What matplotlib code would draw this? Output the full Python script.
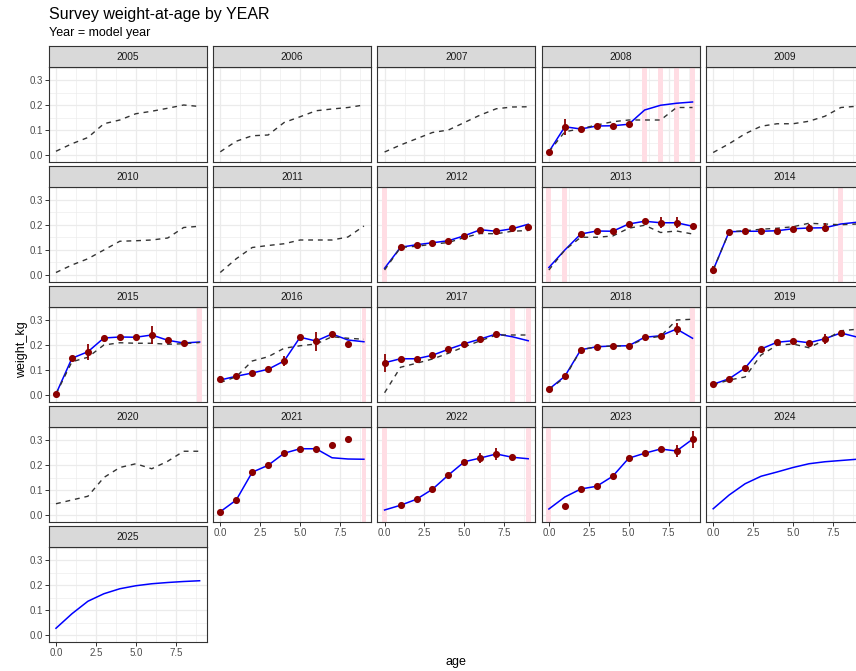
import numpy as np
import matplotlib
matplotlib.use("Agg")
import matplotlib.pyplot as plt

plt.rcParams['font.family'] = ['Liberation Sans', 'DejaVu Sans']

nan = np.nan
ages = [0, 1, 2, 3, 4, 5, 6, 7, 8, 9]
years = list(range(2005, 2026))

# dashed reference curves
dashed = {
    2005: [0.015, 0.045, 0.07, 0.125, 0.14, 0.165, 0.175, 0.187, 0.2, 0.194],
    2006: [0.013, 0.055, 0.077, 0.08, 0.13, 0.153, 0.177, 0.184, 0.19, 0.2],
    2007: [0.012, 0.04, 0.065, 0.09, 0.1, 0.13, 0.16, 0.185, 0.192, 0.193],
    2008: [0.013, 0.093, 0.105, 0.12, 0.133, 0.14, 0.14, 0.14, 0.19, 0.19],
    2009: [0.01, 0.045, 0.085, 0.115, 0.125, 0.125, 0.135, 0.155, 0.19, 0.195],
    2010: [0.01, 0.04, 0.065, 0.1, 0.135, 0.137, 0.14, 0.148, 0.19, 0.195],
    2011: [0.01, 0.065, 0.11, 0.118, 0.125, 0.14, 0.14, 0.14, 0.152, 0.196],
    2012: [0.02, 0.11, 0.115, 0.123, 0.13, 0.15, 0.166, 0.165, 0.175, 0.178],
    2013: [0.02, 0.1, 0.151, 0.151, 0.156, 0.187, 0.199, 0.17, 0.176, 0.164],
    2014: [0.02, 0.173, 0.177, 0.183, 0.187, 0.193, 0.207, 0.204, 0.201, 0.204],
    2015: [0.004, 0.133, 0.151, 0.2, 0.209, 0.207, 0.207, 0.203, 0.205, 0.21],
    2016: [0.05, 0.073, 0.136, 0.153, 0.187, 0.197, 0.204, 0.233, 0.227, 0.223],
    2017: [0.009, 0.111, 0.127, 0.144, 0.167, 0.193, 0.217, 0.24, 0.24, 0.24],
    2018: [0.022, 0.07, 0.181, 0.193, 0.196, 0.197, 0.225, 0.235, 0.3, 0.303],
    2019: [0.04, 0.06, 0.072, 0.16, 0.199, 0.204, 0.189, 0.22, 0.257, 0.263],
    2020: [0.045, 0.06, 0.075, 0.15, 0.19, 0.205, 0.185, 0.215, 0.255, 0.255],
}

# fitted (blue) curves
fitted = {
    2008: [0.013, 0.113, 0.104, 0.116, 0.117, 0.123, 0.18, 0.199, 0.207, 0.212],
    2012: [0.027, 0.111, 0.121, 0.129, 0.137, 0.157, 0.181, 0.175, 0.185, 0.203],
    2013: [0.03, 0.1, 0.164, 0.176, 0.175, 0.204, 0.215, 0.209, 0.209, 0.195],
    2014: [0.02, 0.173, 0.175, 0.175, 0.177, 0.185, 0.188, 0.189, 0.204, 0.211],
    2015: [0.004, 0.147, 0.173, 0.228, 0.232, 0.231, 0.24, 0.219, 0.208, 0.212],
    2016: [0.06, 0.075, 0.088, 0.103, 0.136, 0.231, 0.216, 0.244, 0.22, 0.213],
    2017: [0.129, 0.145, 0.145, 0.159, 0.183, 0.205, 0.224, 0.244, 0.233, 0.217],
    2018: [0.023, 0.075, 0.181, 0.193, 0.196, 0.197, 0.231, 0.237, 0.264, 0.227],
    2019: [0.043, 0.065, 0.108, 0.184, 0.211, 0.217, 0.209, 0.225, 0.248, 0.232],
    2021: [0.013, 0.06, 0.171, 0.199, 0.247, 0.265, 0.265, 0.229, 0.224, 0.223],
    2022: [0.02, 0.039, 0.063, 0.103, 0.16, 0.213, 0.228, 0.244, 0.231, 0.225],
    2023: [0.024, 0.072, 0.104, 0.115, 0.155, 0.227, 0.247, 0.264, 0.256, 0.303],
    2024: [0.025, 0.08, 0.125, 0.155, 0.172, 0.19, 0.205, 0.213, 0.218, 0.223],
    2025: [0.027, 0.085, 0.135, 0.165, 0.185, 0.197, 0.205, 0.21, 0.214, 0.217],
}

# observed (red points)
observed = {
    2008: [0.013, 0.113, 0.104, 0.116, 0.117, 0.123, nan, nan, nan, nan],
    2012: [nan, 0.111, 0.121, 0.129, 0.137, 0.157, 0.181, 0.175, 0.187, 0.193],
    2013: [nan, nan, 0.164, 0.176, 0.175, 0.204, 0.215, 0.209, 0.209, 0.195],
    2014: [0.02, 0.173, 0.175, 0.175, 0.177, 0.185, 0.188, 0.189, nan, nan],
    2015: [0.004, 0.147, 0.173, 0.228, 0.232, 0.231, 0.24, 0.219, 0.208, nan],
    2016: [0.063, 0.075, 0.088, 0.103, 0.136, 0.231, 0.216, 0.244, 0.203, nan],
    2017: [0.129, 0.145, 0.145, 0.159, 0.183, 0.205, 0.224, 0.244, nan, nan],
    2018: [0.023, 0.075, 0.181, 0.193, 0.196, 0.197, 0.231, 0.237, 0.264, nan],
    2019: [0.043, 0.065, 0.108, 0.184, 0.211, 0.217, 0.209, 0.225, 0.248, nan],
    2021: [0.013, 0.06, 0.171, 0.199, 0.247, 0.265, 0.265, 0.28, 0.304, nan],
    2022: [nan, 0.039, 0.063, 0.103, 0.16, 0.213, 0.228, 0.244, 0.231, nan],
    2023: [nan, 0.037, 0.104, 0.115, 0.155, 0.227, 0.247, 0.264, 0.256, 0.303],
}

# error-bar half widths
obs_err = {
    2008: [0.004, 0.033, 0.004, 0.004, 0.004, 0.004, nan, nan, nan, nan],
    2012: [nan, 0.004, 0.004, 0.004, 0.004, 0.004, 0.005, 0.005, 0.006, 0.006],
    2013: [nan, nan, 0.004, 0.004, 0.004, 0.005, 0.006, 0.023, 0.023, 0.006],
    2014: [0.016, 0.004, 0.004, 0.004, 0.004, 0.006, 0.017, 0.017, nan, nan],
    2015: [0.004, 0.006, 0.033, 0.005, 0.005, 0.005, 0.035, 0.008, 0.006, nan],
    2016: [0.012, 0.004, 0.004, 0.004, 0.02, 0.008, 0.038, 0.008, 0.005, nan],
    2017: [0.037, 0.005, 0.004, 0.005, 0.005, 0.005, 0.005, 0.006, nan, nan],
    2018: [0.004, 0.006, 0.004, 0.004, 0.004, 0.004, 0.005, 0.008, 0.025, nan],
    2019: [0.004, 0.004, 0.004, 0.004, 0.005, 0.005, 0.006, 0.02, 0.008, nan],
    2021: [0.004, 0.004, 0.004, 0.004, 0.004, 0.004, 0.004, 0.006, 0.006, nan],
    2022: [nan, 0.004, 0.004, 0.004, 0.005, 0.008, 0.021, 0.023, 0.008, nan],
    2023: [nan, 0.004, 0.004, 0.004, 0.006, 0.006, 0.008, 0.008, 0.025, 0.035],
}

# ages highlighted with pink bands
pink_ages = {
    2008: [6, 7, 8, 9],
    2012: [0],
    2013: [0, 1],
    2014: [8],
    2015: [9],
    2016: [9],
    2017: [8, 9],
    2018: [9],
    2019: [9],
    2021: [9],
    2022: [0, 9],
    2023: [0],
}

x_ticks = [0, 2.5, 5.0, 7.5]
x_ticklabels = ["0.0", "2.5", "5.0", "7.5"]
y_ticks = [0.0, 0.1, 0.2, 0.3]
y_ticklabels = ["0.0", "0.1", "0.2", "0.3"]

W, H = 856, 671
fig = plt.figure(figsize=(W / 100, H / 100), dpi=100)
fig.patch.set_facecolor("white")


def box(left, top, width, height):
    return [left / W, 1 - (top + height) / H, width / W, height / H]


ncol = 5
pan_w = 158
pan_h = 95
strip_h = 21
col_left = [48.8 + 164.3 * c for c in range(ncol)]
row_top = [67 + 120 * r for r in range(5)]

GRID = "#EBEBEB"
DARK = "#333333"
TICKC = "#4D4D4D"

for i, yr in enumerate(years):
    r, c = divmod(i, ncol)
    L = col_left[c]
    T = row_top[r]
    ax = fig.add_axes(box(L, T, pan_w, pan_h))
    ax.set_xlim(-0.45, 9.45)
    ax.set_ylim(-0.028, 0.352)
    ax.set_facecolor("white")
    ax.set_xticks(x_ticks)
    ax.set_yticks(y_ticks)
    ax.set_xticks([1.25, 3.75, 6.25, 8.75], minor=True)
    ax.set_yticks([0.05, 0.15, 0.25, 0.35], minor=True)
    ax.grid(True, which="major", color=GRID, lw=0.9, zorder=0)
    ax.grid(True, which="minor", color=GRID, lw=0.45, zorder=0)
    ax.set_axisbelow(True)
    for s in ax.spines.values():
        s.set_color(DARK)
        s.set_linewidth(0.8)
        s.set_zorder(10)

    below_empty = (i + ncol) >= len(years)
    show_x = below_empty
    show_y = (c == 0)
    ax.tick_params(axis="both", which="minor", length=0)
    ax.tick_params(axis="x", which="major", length=3 if show_x else 0,
                   color=DARK, width=0.7, labelsize=7, labelcolor=TICKC, pad=1.5)
    ax.tick_params(axis="y", which="major", length=3 if show_y else 0,
                   color=DARK, width=0.7, labelsize=7, labelcolor=TICKC, pad=1.5)
    if show_x:
        ax.set_xticklabels(x_ticklabels)
    else:
        ax.set_xticklabels([])
    if show_y:
        ax.set_yticklabels(y_ticklabels)
    else:
        ax.set_yticklabels([])

    for a in pink_ages.get(yr, []):
        ax.axvspan(a - 0.15, a + 0.15, color="#FFDDE4", lw=0, zorder=1)

    if yr in fitted:
        ax.plot(ages, fitted[yr], color="blue", lw=1.1, zorder=3)
    if yr in dashed:
        ax.plot(ages, dashed[yr], color="#333333", lw=1.0, ls=(0, (3.5, 3.5)), zorder=4)
    if yr in observed:
        ob = np.array(observed[yr], dtype=float)
        er = np.array(obs_err[yr], dtype=float)
        ax.errorbar(ages, ob, yerr=er, fmt="none", ecolor="#8B0000", elinewidth=1.3,
                    capsize=0, zorder=5)
        ax.plot(ages, ob, ls="none", marker="o", ms=4.1, color="#8B0000",
                mec="#8B0000", zorder=6)

    # strip
    sax = fig.add_axes(box(L, T - strip_h, pan_w, strip_h))
    sax.set_facecolor("#D9D9D9")
    sax.set_xticks([])
    sax.set_yticks([])
    for s in sax.spines.values():
        s.set_color(DARK)
        s.set_linewidth(0.8)
    sax.text(0.5, 0.5, str(yr), ha="center", va="center", fontsize=7.3,
             color="#1A1A1A", transform=sax.transAxes)

# titles
fig.text(48.8 / W, 1 - 14.5 / H, "Survey weight-at-age by YEAR", ha="left", va="center",
         fontsize=11.5, color="black")
fig.text(48.8 / W, 1 - 33 / H, "Year = model year", ha="left", va="center",
         fontsize=9, color="black")
fig.text(456 / W, 1 - 662 / H, "age", ha="center", va="center", fontsize=9, color="black")
fig.text(22 / W, 1 - 350 / H, "weight_kg", ha="center", va="center", rotation=90,
         fontsize=9, color="black")

fig.savefig("out.png", dpi=100, facecolor="white")
